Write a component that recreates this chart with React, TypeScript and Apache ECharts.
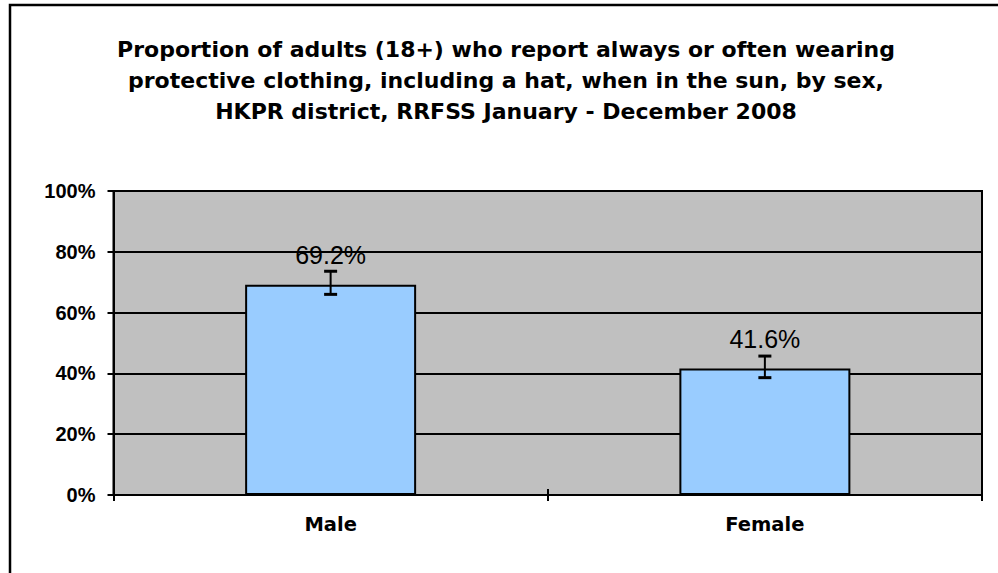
import React, { useEffect, useRef } from "react";
import * as echarts from "echarts";

const categories = ["Male", "Female"];
const values = [69.2, 41.6];
const ciLow = [66.0, 38.6];
const ciHigh = [73.6, 45.7];
const yTicks = [0, 20, 40, 60, 80, 100];
const titleLines = [
  "Proportion of adults (18+) who report always or often wearing",
  "protective clothing, including a hat, when in the sun, by sex,",
  "HKPR district, RRFSS January - December 2008",
];

const FONT = "'Liberation Sans', Arial, sans-serif";
const WIDE = "'DejaVu Sans', Verdana, sans-serif";

export default function App() {
  const ref = useRef<HTMLDivElement>(null);
  useEffect(() => {
    const chart = echarts.init(ref.current!, null, { renderer: "svg" });
    const errData = categories.map((_, i) => [i, ciLow[i], ciHigh[i]]);
    chart.setOption({
      animation: false,
      backgroundColor: "#ffffff",
      graphic: [
        {
          type: "rect",
          shape: { x: 10, y: 5, width: 1200, height: 800 },
          style: { fill: "none", stroke: "#000", lineWidth: 2.5 },
          silent: true,
          z: -1,
        },
        {
          type: "text",
          x: 506,
          y: 34,
          style: {
            text: titleLines.join("\n"),
            font: `bold 22px ${WIDE}`,
            fill: "#000",
            textAlign: "center",
            lineHeight: 31,
          },
        },
      ],
      grid: {
        left: 113.5,
        right: 16,
        top: 191,
        bottom: 78,
        show: true,
        backgroundColor: "#C0C0C0",
        borderColor: "#000",
        borderWidth: 2,
      },
      xAxis: [
        {
          type: "category",
          data: categories,
          position: "bottom",
          axisLine: { lineStyle: { color: "#000", width: 2 } },
          axisTick: { show: true, inside: false, length: 6, lineStyle: { color: "#000", width: 2 } },
          axisLabel: {
            color: "#000",
            fontFamily: WIDE,
            fontWeight: "bold",
            fontSize: 19.5,
            margin: 19,
          },
        },
        {
          type: "category",
          data: categories,
          position: "top",
          offset: -304,
          axisLine: { show: false },
          axisTick: { show: true, inside: false, length: 6, lineStyle: { color: "#000", width: 2 } },
          axisLabel: { show: false },
        },
      ],
      yAxis: {
        type: "value",
        min: 0,
        max: 100,
        interval: 20,
        axisLine: { show: true, lineStyle: { color: "#000", width: 2 } },
        axisTick: { show: true, inside: false, length: 6, lineStyle: { color: "#000", width: 2 } },
        splitLine: { show: true, lineStyle: { color: "#000", width: 2 } },
        axisLabel: {
          color: "#000",
          fontFamily: FONT,
          fontWeight: "bold",
          fontSize: 20,
          margin: 18,
          formatter: (v: number) => (yTicks.includes(v) ? `${v}%` : ""),
        },
      },
      series: [
        {
          type: "bar",
          data: values,
          barWidth: 171,
          barGap: "0%",
          itemStyle: { color: "#99CCFF", borderColor: "#000", borderWidth: 2 },
          label: {
            show: true,
            position: "top",
            distance: 17,
            color: "#000",
            fontFamily: FONT,
            fontSize: 25,
            formatter: (p: any) => `${Number(p.value).toFixed(1)}%`,
          },
        },
        {
          type: "custom",
          data: errData,
          z: 10,
          renderItem: (params: any, api: any) => {
            const x = api.value(0);
            const lo = api.coord([x, api.value(1)]);
            const hi = api.coord([x, api.value(2)]);
            const hw = 6.5;
            const style = { stroke: "#000", lineWidth: 3 };
            return {
              type: "group",
              children: [
                { type: "line", shape: { x1: hi[0], y1: hi[1], x2: lo[0], y2: lo[1] }, style: { stroke: "#000", lineWidth: 2 } },
                { type: "line", shape: { x1: hi[0] - hw, y1: hi[1], x2: hi[0] + hw, y2: hi[1] }, style },
                { type: "line", shape: { x1: lo[0] - hw, y1: lo[1], x2: lo[0] + hw, y2: lo[1] }, style },
              ],
            };
          },
        },
      ],
    });
    return () => chart.dispose();
  }, []);
  return (
    <div
      ref={ref}
      style={{ position: "fixed", left: 0, top: 0, width: 998, height: 573 }}
    />
  );
}
